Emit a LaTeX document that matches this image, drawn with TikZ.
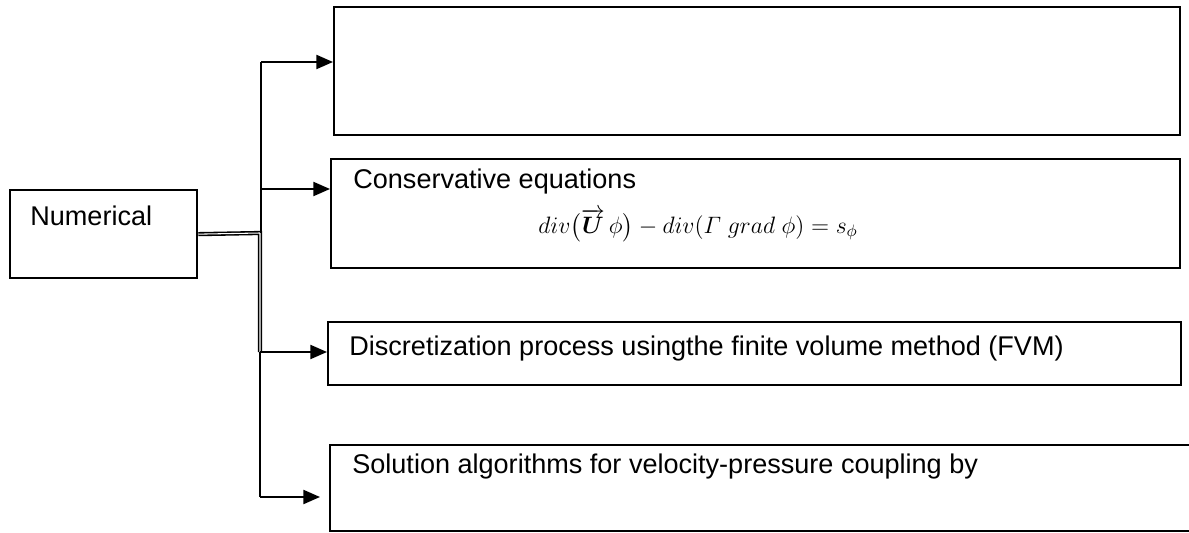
\documentclass[tikz,border=0pt]{standalone}
\usepackage{fix-cm}
\usepackage{amsmath,amssymb}
\usepackage{fontspec}
\setmainfont{Liberation Sans}
\usetikzlibrary{arrows.meta}
\tikzset{
  blk/.style={draw, line width=1.3pt, anchor=north west, inner sep=0pt},
  txt/.style={anchor=west, inner sep=0pt, font=\fontsize{15.4}{18}\selectfont},
  arr/.style={line width=1.2pt, -{Triangle[length=9.5pt,width=8pt]}},
  dbl/.style={double, line width=0.9pt, double distance=0.6pt}
}

\begin{document}
\begin{tikzpicture}[x=0.02cm,y=-0.02cm]
\useasboundingbox (0,0) rectangle (1189,533);
\node[blk, minimum width=187*0.02cm, minimum height=88*0.02cm] (num) at (9,189) {};
\node[txt] at (30,216) {Numerical};
\node[blk, minimum width=846*0.02cm, minimum height=128*0.02cm] (box1) at (333,6) {};
\node[blk, minimum width=849*0.02cm, minimum height=109*0.02cm] (conserv) at (330,158) {};
\node[txt] at (353,182) {Conservative equations};
\node[inner sep=0pt, font=\fontsize{13.5}{16}\selectfont] at (698,225)
  {$div\bigl(\overrightarrow{\boldsymbol{U}}\,\phi\bigr)-div(\varGamma\;grad\;\phi)=s_{\phi}$};
\node[blk, minimum width=853*0.02cm, minimum height=63*0.02cm] (discr) at (327,321) {};
\node[txt] at (349,349) {Discretization process usingthe finite volume method (FVM)};
\node[blk, minimum width=880*0.02cm, minimum height=86*0.02cm] (solut) at (329,444) {};
\node[txt] at (352,467) {Solution algorithms for velocity-pressure coupling by};
\coordinate (j1) at (261,62);
\coordinate (j2) at (261,189);
\coordinate (j3) at (260,352);
\coordinate (j4) at (260,497);
\draw[dbl] (num.east) -- (260,233) -- (j3);
\draw[line width=1.2pt] (j1) -- (261,233);
\draw[line width=1.2pt] (j3) -- (j4);
\draw[arr] (j1) -- (j1 -| box1.west);
\draw[arr] (j2) -- (j2 -| conserv.west);
\draw[arr] (j3) -- (j3 -| discr.west);
\draw[arr] (j4) -- ([xshift=-9*0.02cm]j4 -| solut.west);
\end{tikzpicture}
\end{document}
